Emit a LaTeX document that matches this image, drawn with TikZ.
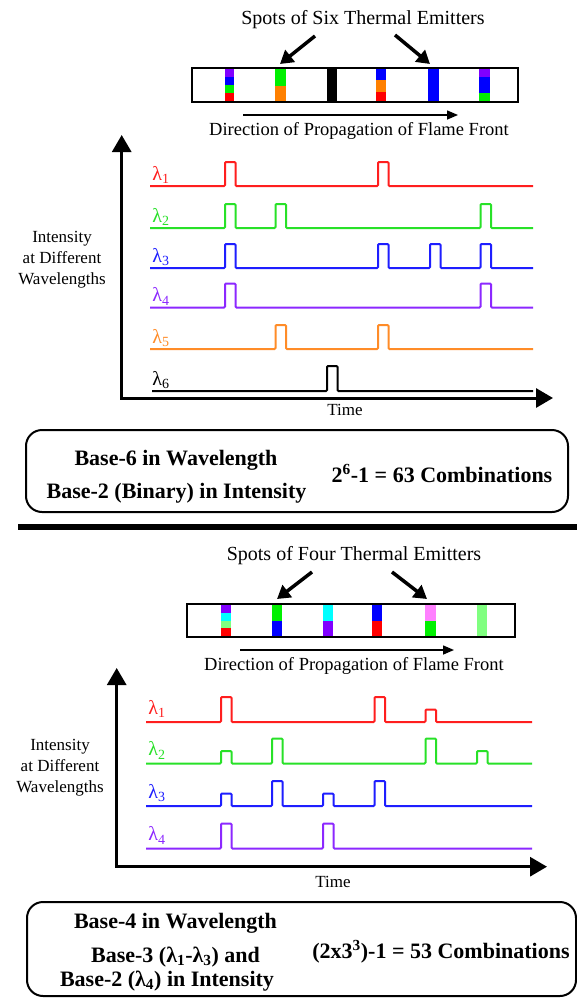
\documentclass[tikz,border=0pt]{standalone}
\usepackage{fontspec}
\setmainfont{Liberation Serif}
\usetikzlibrary{arrows.meta}
\definecolor{tred}{RGB}{255,30,30}
\definecolor{tgreen}{RGB}{40,225,40}
\definecolor{tblue}{RGB}{30,30,255}
\definecolor{tpurple}{RGB}{140,40,255}
\definecolor{torange}{RGB}{255,140,40}
\definecolor{sred}{RGB}{255,0,0}
\definecolor{sgreen}{RGB}{0,240,0}
\definecolor{sblue}{RGB}{0,0,255}
\definecolor{spurple}{RGB}{128,0,255}
\definecolor{sorange}{RGB}{255,128,0}
\definecolor{scyan}{RGB}{0,255,255}
\definecolor{slgreen}{RGB}{128,255,128}
\definecolor{spink}{RGB}{255,128,255}
\begin{document}
\begin{tikzpicture}[x=1pt,y=-1pt,
  trace/.style={line width=2pt, rounded corners=1pt},
  axisline/.style={line width=3pt,-{Triangle[length=17pt,width=19pt]}},
  ptr/.style={line width=3.5pt,-{Triangle[length=13pt,width=15pt]}},
  dirarrow/.style={line width=1.5pt,-{Triangle[length=11pt,width=9pt]}},
  strip/.style={line width=2.5pt},
  lbl/.style={inner sep=0pt, font=\fontsize{17}{19}\selectfont},
  lam/.style={inner sep=0pt, font=\fontsize{20}{22}\selectfont},
  axlbl/.style={inner sep=0pt, align=center, font=\fontsize{17}{21}\selectfont},
  title/.style={inner sep=0pt, anchor=base, font=\fontsize{20}{22}\selectfont},
  dirtxt/.style={inner sep=0pt, anchor=base, font=\fontsize{18.5}{20}\selectfont},
  boxtxt/.style={inner sep=0pt, anchor=base, font=\fontsize{22}{24}\selectfont\bfseries},
  infobox/.style={line width=2pt, rounded corners=16pt}
]
\useasboundingbox (0,0) rectangle (577,998);
\fill[white] (0,0) rectangle (577,998);

%%%%%%%%%%%%%%%%%% TOP PANEL
\node[title] (t1) at (363,25) {Spots of Six Thermal Emitters};
\coordinate (a1s) at (315,36); \coordinate (a1e) at (280,64);
\coordinate (a2s) at (395,35); \coordinate (a2e) at (430,64);
\draw[ptr] (a1s) -- (a1e);
\draw[ptr] (a2s) -- (a2e);

% stripes
\fill[spurple] (225,69) rectangle (234,77);
\fill[sblue] (225,77) rectangle (234,85);
\fill[sgreen] (225,85) rectangle (234,93);
\fill[sred] (225,93) rectangle (234,101);
\fill[sgreen] (275,69) rectangle (286,86);
\fill[sorange] (275,86) rectangle (286,101);
\fill[black] (327,69) rectangle (337,101);
\fill[sblue] (376,69) rectangle (386,79.5);
\fill[sorange] (376,79.5) rectangle (386,91.5);
\fill[sred] (376,91.5) rectangle (386,101);
\fill[sblue] (428,69) rectangle (439,101);
\fill[spurple] (479,69) rectangle (490,77);
\fill[sblue] (479,77) rectangle (490,93);
\fill[sgreen] (479,93) rectangle (490,101);
\node[draw, strip, minimum width=326pt, minimum height=34pt, inner sep=0pt] (s1) at (355,85) {};

\coordinate (d1s) at (243,115); \coordinate (d1e) at (458,115);
\draw[dirarrow] (d1s) -- (d1e);
\node[dirtxt] (dt1) at (359,135) {Direction of Propagation of Flame Front};

% axes
\coordinate (o1) at (121.7,398);
\coordinate (y1) at (121.7,135);
\coordinate (x1) at (553,398);
\draw[axisline] (o1) -- (y1);
\draw[axisline] (121.7-1.5,398) -- (x1);
\node[axlbl] (il1) at (62,260) {Intensity\\at Different\\Wavelengths};
\node[lbl] (tm1) at (345,410) {Time};

% traces
\draw[trace, tred] (150,186) -- (225,186) -- (225,162) -- (235.5,162) -- (235.5,186) -- (378,186) -- (378,162) -- (388.5,162) -- (388.5,186) -- (533,186);
\draw[trace, tgreen] (150,228) -- (225,228) -- (225,204) -- (235.5,204) -- (235.5,228) -- (275.5,228) -- (275.5,204) -- (286,204) -- (286,228) -- (480.5,228) -- (480.5,204) -- (491,204) -- (491,228) -- (533,228);
\draw[trace, tblue] (150,268) -- (225,268) -- (225,244) -- (235.5,244) -- (235.5,268) -- (378,268) -- (378,244) -- (388.5,244) -- (388.5,268) -- (430,268) -- (430,244) -- (440.5,244) -- (440.5,268) -- (480.5,268) -- (480.5,244) -- (491,244) -- (491,268) -- (533,268);
\draw[trace, tpurple] (150,307.5) -- (225,307.5) -- (225,283.5) -- (235.5,283.5) -- (235.5,307.5) -- (480.5,307.5) -- (480.5,283.5) -- (491,283.5) -- (491,307.5) -- (533,307.5);
\draw[trace, torange] (150,349) -- (275.5,349) -- (275.5,325) -- (286,325) -- (286,349) -- (378,349) -- (378,325) -- (388.5,325) -- (388.5,349) -- (533,349);
\draw[trace, black] (152,391) -- (327,391) -- (327,366) -- (337.5,366) -- (337.5,391) -- (533,391);

\node[lam, text=tred] (l11) at (161,175) {λ\textsubscript{1}};
\node[lam, text=tgreen] (l12) at (161,217) {λ\textsubscript{2}};
\node[lam, text=tblue] (l13) at (161,257) {λ\textsubscript{3}};
\node[lam, text=tpurple] (l14) at (161,296.5) {λ\textsubscript{4}};
\node[lam, text=torange] (l15) at (161,338) {λ\textsubscript{5}};
\node[lam, text=black] (l16) at (161,380) {λ\textsubscript{6}};

% info box 1
\draw[infobox] (26,430) rectangle (568,512);
\node[boxtxt] (b11) at (176,465) {Base-6 in Wavelength};
\node[boxtxt] (b12) at (176.5,498) {Base-2 (Binary) in Intensity};
\node[boxtxt] (b13) at (442,482) {2\textsuperscript{6}-1 = 63 Combinations};

% separator
\draw[line width=6pt] (18,527) -- (577,527);

%%%%%%%%%%%%%%%%%% BOTTOM PANEL
\node[title] (t2) at (354,560) {Spots of Four Thermal Emitters};
\coordinate (a3s) at (312,572); \coordinate (a3e) at (277,599);
\coordinate (a4s) at (392,572); \coordinate (a4e) at (427,599);
\draw[ptr] (a3s) -- (a3e);
\draw[ptr] (a4s) -- (a4e);

\fill[spurple] (221,605) rectangle (231,612.75);
\fill[scyan] (221,612.75) rectangle (231,620.5);
\fill[slgreen] (221,620.5) rectangle (231,628.25);
\fill[sred] (221,628.25) rectangle (231,636);
\fill[sgreen] (272,605) rectangle (282,620.5);
\fill[sblue] (272,620.5) rectangle (282,636);
\fill[scyan] (323,605) rectangle (333,620.5);
\fill[spurple] (323,620.5) rectangle (333,636);
\fill[sblue] (372,605) rectangle (382,620.5);
\fill[sred] (372,620.5) rectangle (382,636);
\fill[spink] (425,605) rectangle (436,620.5);
\fill[sgreen] (425,620.5) rectangle (436,636);
\fill[slgreen] (477,605) rectangle (487,636);
\node[draw, strip, minimum width=328pt, minimum height=33pt, inner sep=0pt] (s2) at (351,620.5) {};

\coordinate (d2s) at (240,650); \coordinate (d2e) at (454,650);
\draw[dirarrow] (d2s) -- (d2e);
\node[dirtxt] (dt2) at (354,670) {Direction of Propagation of Flame Front};

\coordinate (o2) at (116.7,866.7);
\coordinate (y2) at (116.7,668);
\coordinate (x2) at (547,866.7);
\draw[axisline] (o2) -- (y2);
\draw[axisline] (116.7-1.5,866.7) -- (x2);
\node[axlbl] (il2) at (60,768) {Intensity\\at Different\\Wavelengths};
\node[lbl] (tm2) at (333,882) {Time};

\draw[trace, tred] (146,722) -- (221,722) -- (221,697) -- (231.5,697) -- (231.5,722) -- (374.5,722) -- (374.5,697) -- (385,697) -- (385,722) -- (425.5,722) -- (425.5,709.5) -- (436,709.5) -- (436,722) -- (532,722);
\draw[trace, tgreen] (146,763.5) -- (221,763.5) -- (221,751) -- (231.5,751) -- (231.5,763.5) -- (272,763.5) -- (272,738.5) -- (282.5,738.5) -- (282.5,763.5) -- (425.5,763.5) -- (425.5,738.5) -- (436,738.5) -- (436,763.5) -- (477,763.5) -- (477,751) -- (487.5,751) -- (487.5,763.5) -- (532,763.5);
\draw[trace, tblue] (146,806) -- (221,806) -- (221,793.5) -- (231.5,793.5) -- (231.5,806) -- (272,806) -- (272,781) -- (282.5,781) -- (282.5,806) -- (323,806) -- (323,793.5) -- (333.5,793.5) -- (333.5,806) -- (374.5,806) -- (374.5,781) -- (385,781) -- (385,806) -- (532,806);
\draw[trace, tpurple] (146,848.5) -- (221,848.5) -- (221,823.5) -- (231.5,823.5) -- (231.5,848.5) -- (323,848.5) -- (323,823.5) -- (333.5,823.5) -- (333.5,848.5) -- (532,848.5);

\node[lam, text=tred] (l21) at (157,709) {λ\textsubscript{1}};
\node[lam, text=tgreen] (l22) at (157,750.5) {λ\textsubscript{2}};
\node[lam, text=tblue] (l23) at (157,793) {λ\textsubscript{3}};
\node[lam, text=tpurple] (l24) at (157,835.5) {λ\textsubscript{4}};

% info box 2
\draw[infobox] (27,902) rectangle (576,996);
\node[boxtxt] (b21) at (175.5,928) {Base-4 in Wavelength};
\node[boxtxt] (b22) at (175.5,962) {Base-3 (λ\textsubscript{1}-λ\textsubscript{3}) and};
\node[boxtxt] (b23) at (167,986) {Base-2 (λ\textsubscript{4}) in Intensity};
\node[boxtxt] (b24) at (441,958) {(2x3\textsuperscript{3})-1 = 53 Combinations};
\end{tikzpicture}
\end{document}
